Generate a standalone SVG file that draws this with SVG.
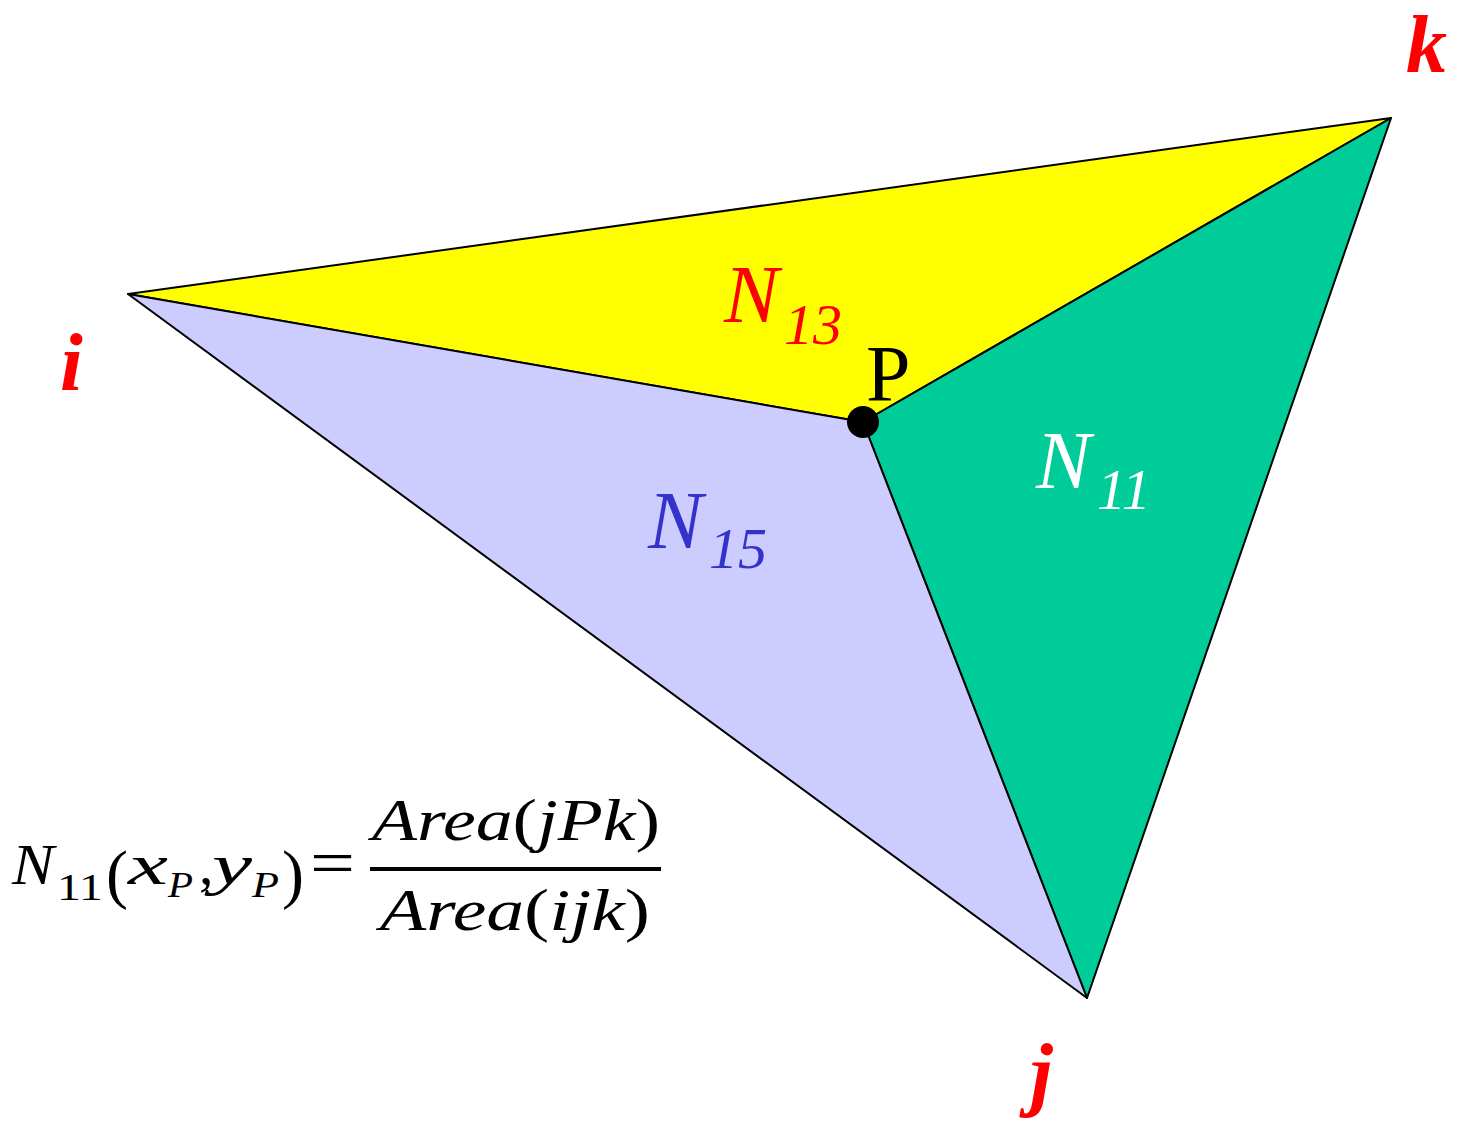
<svg xmlns="http://www.w3.org/2000/svg" width="1466" height="1123" viewBox="0 0 1466 1123">
<style>
.edge{stroke:#000;stroke-width:2;stroke-linejoin:round}
.lbl{font-family:"Liberation Serif","Times New Roman",serif;font-style:italic}
.vtx{font-family:"Liberation Serif","Times New Roman",serif;font-style:italic;font-weight:bold;fill:#ff0000;font-size:82px}
.math{font-family:"Liberation Serif","Times New Roman",serif;fill:#000}
.it{font-style:italic}
</style>
<rect width="1466" height="1123" fill="#fff"/>
<g id="faces">
<polygon id="face-N13" class="edge" points="128,294 1391,118 863,422" fill="#ffff00"/>
<polygon id="face-N11" class="edge" points="863,422 1391,118 1087,998" fill="#00cc99"/>
<polygon id="face-N15" class="edge" points="128,294 863,422 1087,998" fill="#ccccff"/>
</g>
<g id="point-P">
<circle cx="863" cy="422" r="16" fill="#000"/>
<text x="866" y="401" class="math" font-size="80">P</text>
</g>
<g id="label-N13">
<text x="724" y="322" class="lbl" fill="#ff0000" font-size="82">N</text>
<text x="784" y="344" class="lbl" fill="#ff0000" font-size="58">13</text>
</g>
<g id="label-N11">
<text x="1036" y="488" class="lbl" fill="#ffffff" font-size="82">N</text>
<text x="1097" y="509" class="lbl" fill="#ffffff" font-size="58">11</text>
</g>
<g id="label-N15">
<text x="648" y="548" class="lbl" fill="#3333cc" font-size="82">N</text>
<text x="709" y="568" class="lbl" fill="#3333cc" font-size="58">15</text>
</g>
<g id="vertex-i"><text x="60" y="390" class="vtx">i</text></g>
<g id="vertex-k"><text x="1406" y="72" class="vtx" font-size="78">k</text></g>
<g id="vertex-j"><text x="1030" y="1100" class="vtx">j</text></g>
<g id="formula">
<text x="12" y="884" class="math it" font-size="58" textLength="42" lengthAdjust="spacingAndGlyphs">N</text>
<text x="57" y="900" class="math" font-size="38" textLength="46" lengthAdjust="spacingAndGlyphs">11</text>
<text x="106" y="896" class="math" font-size="66">(</text>
<text x="128" y="884" class="math it" font-size="58" textLength="40" lengthAdjust="spacingAndGlyphs">x</text>
<text x="168" y="897" class="math it" font-size="36" textLength="25" lengthAdjust="spacingAndGlyphs">P</text>
<text x="199" y="884" class="math" font-size="58">,</text>
<text x="212" y="884" class="math it" font-size="58" textLength="40" lengthAdjust="spacingAndGlyphs">y</text>
<text x="252" y="897" class="math it" font-size="36" textLength="27" lengthAdjust="spacingAndGlyphs">P</text>
<text x="282" y="896" class="math" font-size="66">)</text>
<text x="310" y="884" class="math" font-size="64" textLength="45" lengthAdjust="spacingAndGlyphs">=</text>
<text x="372" y="840" class="math" font-size="60" textLength="288" lengthAdjust="spacingAndGlyphs"><tspan class="it">Area</tspan>(<tspan class="it">jPk</tspan>)</text>
<line x1="370" y1="869" x2="661" y2="869" stroke="#000" stroke-width="4"/>
<text x="380" y="930" class="math" font-size="60" textLength="270" lengthAdjust="spacingAndGlyphs"><tspan class="it">Area</tspan>(<tspan class="it">ijk</tspan>)</text>
</g>
</svg>
